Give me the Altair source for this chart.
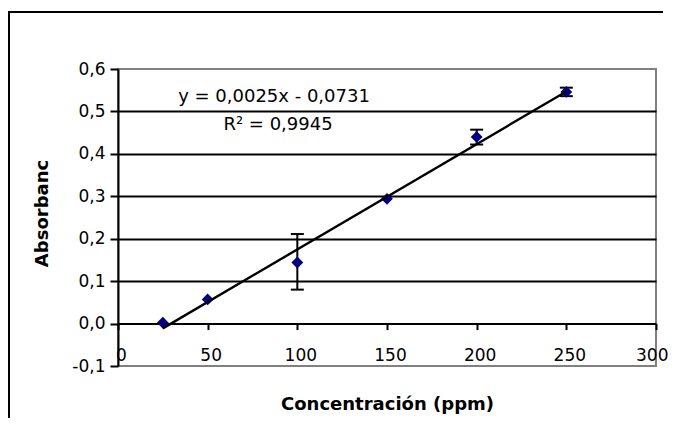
import altair as alt
import pandas as pd

# ---- data ----
conc = [25, 50, 100, 150, 200, 250]
absorb = [0.002, 0.057, 0.144, 0.294, 0.440, 0.546]
err_low = [0.002, 0.057, 0.080, 0.294, 0.422, 0.536]
err_high = [0.002, 0.057, 0.211, 0.294, 0.457, 0.556]
x_ticks = [0, 50, 100, 150, 200, 250, 300]
y_ticks = [-0.1, 0.0, 0.1, 0.2, 0.3, 0.4, 0.5, 0.6]
eq_lines = ["y = 0,0025x - 0,0731", "R² = 0,9945"]
x_title = "Concentración (ppm)"
y_title = "Absorbanc"

df = pd.DataFrame({"conc": conc, "abs": absorb, "lo": err_low, "hi": err_high})

FONT = "DejaVu Sans"
W, H = 538, 297
NAVY = "#000080"

xs = alt.Scale(domain=[0, 300], nice=False, zero=False)
ys = alt.Scale(domain=[-0.1, 0.6], nice=False, zero=False)

x_axis = alt.Axis(
    values=x_ticks, grid=False, offset=-H / 7.0,
    domainColor="black", domainWidth=2,
    tickColor="black", tickWidth=2, tickSize=6,
    labelFont=FONT, labelFontSize=17, labelColor="black",
    labelPadding=18, labelFlush=False, labelOverlap=False,
    labelAlign={"condition": {"test": "datum.value >= 300", "value": "right"}, "value": "center"},
    labelOffset={"condition": {"test": "datum.value >= 300", "value": 12}, "value": 3},
    title=x_title, titleFont=FONT, titleFontSize=18, titleFontWeight="bold",
    titleColor="black", titleY=81, titleBaseline="middle",
)
y_axis = alt.Axis(
    values=y_ticks,
    grid=True, gridWidth=2,
    gridColor={"condition": {"test": "datum.value > 0.05 && datum.value < 0.55", "value": "black"},
               "value": "transparent"},
    domainColor="black", domainWidth=2,
    tickColor="black", tickWidth=2, tickSize=8,
    labelFont=FONT, labelFontSize=17, labelColor="black", labelPadding=5,
    labelExpr="replace(replace(format(datum.value, '.1f'), '.', ','), '\u2212', '-')",
    labelFlush=False, labelOverlap=False,
    title=y_title, titleFont=FONT, titleFontSize=18, titleFontWeight="bold",
    titleColor="black", titleX=-76, titleY=144, titleBaseline="middle", titleAlign="center",
)

base = alt.Chart(df)

points_axes = base.mark_point(shape="diamond", filled=True, size=140, color=NAVY, opacity=1).encode(
    x=alt.X("conc:Q", scale=xs, axis=x_axis),
    y=alt.Y("abs:Q", scale=ys, axis=y_axis),
)

has_err = "datum.hi - datum.lo > 0"
bars = base.transform_filter(has_err).mark_rule(color="black", strokeWidth=2).encode(
    x="conc:Q", y="lo:Q", y2="hi:Q"
)
cap_lo = base.transform_filter(has_err).mark_tick(
    orient="horizontal", color="black", size=13, thickness=2, opacity=1
).encode(x="conc:Q", y="lo:Q")
cap_hi = base.transform_filter(has_err).mark_tick(
    orient="horizontal", color="black", size=13, thickness=2, opacity=1
).encode(x="conc:Q", y="hi:Q")

trend = base.transform_regression("conc", "abs", method="linear").mark_line(
    color="black", strokeWidth=2.4
).encode(x="conc:Q", y="abs:Q")

eq = alt.Chart(pd.DataFrame({"t": [eq_lines[0]]})).mark_text(
    font=FONT, fontSize=18, color="black", align="center", baseline="middle"
).encode(text="t:N", x=alt.value(156), y=alt.value(28))
r2 = alt.Chart(pd.DataFrame({"t": [eq_lines[1]]})).mark_text(
    font=FONT, fontSize=18, color="black", align="center", baseline="middle"
).encode(text="t:N", x=alt.value(160), y=alt.value(56))

# outer chart frame (left and top edges only; the rest lies beyond the window)
one = pd.DataFrame({"k": [0]})
frame_top = alt.Chart(one).mark_rect(fill="black", stroke=None, strokeWidth=0).encode(
    x=alt.value(-110), x2=alt.value(545), y=alt.value(-58), y2=alt.value(-56)
)
frame_left = alt.Chart(one).mark_rect(fill="black", stroke=None, strokeWidth=0).encode(
    x=alt.value(-110), x2=alt.value(-108), y=alt.value(-58), y2=alt.value(349)
)

chart = alt.layer(frame_top, frame_left, bars, cap_lo, cap_hi, points_axes, trend, eq, r2).properties(
    width=W, height=H,
    autosize=alt.AutoSizeParams(type="none"),
    padding={"left": 110, "top": 61, "right": 13, "bottom": 52},
    background="white",
).configure_view(stroke="#808080", strokeWidth=2)

chart.save("out.html", embed_options={"renderer": "svg", "actions": False})
